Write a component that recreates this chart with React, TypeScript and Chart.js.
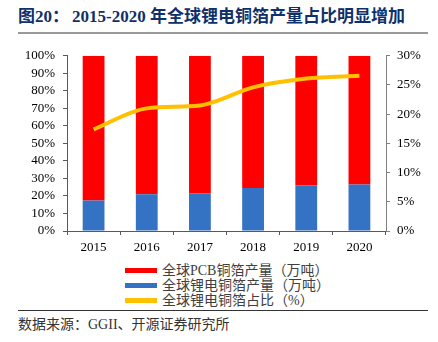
import React, { useEffect, useRef } from "react";
import { Chart, registerables } from "chart.js";

Chart.register(...registerables);

const categories = ["2015", "2016", "2017", "2018", "2019", "2020"];
// share of lithium-battery copper foil in total output (%)
const liShare = [17.4, 21.0, 21.5, 24.6, 26.1, 26.6];
// share of PCB copper foil (%)
const pcbShare = [82.6, 79.0, 78.5, 75.4, 73.9, 73.4];
// line values (%) on right axis
const liRatio = [17.4, 21.0, 21.5, 24.6, 26.1, 26.6];

const leftTicks = [0, 10, 20, 30, 40, 50, 60, 70, 80, 90, 100];
const rightTicks = [0, 5, 10, 15, 20, 25, 30];

const RED = "#FF0000";
const BLUE = "#3472C4";
const YELLOW = "#FFC000";
const serif = "'Liberation Serif', 'Times New Roman', 'Noto Sans CJK SC', serif";

export default function App() {
  const ref = useRef<HTMLCanvasElement | null>(null);

  useEffect(() => {
    document.body.style.margin = "0";
    const ctx = ref.current!;
    const chart = new Chart(ctx, {
      type: "bar",
      data: {
        labels: categories,
        datasets: [
          {
            type: "line",
            label: "全球锂电铜箔占比（%）",
            data: liRatio,
            yAxisID: "y1",
            borderColor: YELLOW,
            backgroundColor: YELLOW,
            borderWidth: 4,
            pointRadius: 0,
            tension: 0.4,
            cubicInterpolationMode: "monotone",
            order: 0,
          } as any,
          {
            label: "全球锂电铜箔产量（万吨）",
            data: liShare,
            backgroundColor: BLUE,
            barPercentage: 0.41,
            categoryPercentage: 1,
            stack: "s",
            order: 1,
          },
          {
            label: "全球PCB铜箔产量（万吨）",
            data: pcbShare,
            backgroundColor: RED,
            barPercentage: 0.41,
            categoryPercentage: 1,
            stack: "s",
            order: 1,
          },
        ],
      },
      options: {
        animation: false,
        responsive: false,
        layout: { padding: { top: 8, left: 0, right: 0, bottom: 0 } },
        plugins: { legend: { display: false }, tooltip: { enabled: false } },
        scales: {
          x: {
            stacked: true,
            offset: true,
            grid: {
              offset: true,
              drawOnChartArea: false,
              tickLength: 4,
              color: "#595959",
            },
            border: { color: "#595959", width: 1 },
            ticks: { color: "#000", font: { family: serif, size: 13 }, padding: 5 },
            afterFit: (s: any) => {
              s.height = 29;
            },
          },
          y: {
            stacked: true,
            min: 0,
            max: 100,
            afterBuildTicks: (s: any) => {
              s.ticks = leftTicks.map((v) => ({ value: v }));
            },
            grid: { drawOnChartArea: false, tickLength: 4, color: "#595959" },
            border: { color: "#595959", width: 1 },
            ticks: {
              autoSkip: false,
              color: "#000",
              font: { family: serif, size: 13 },
              padding: 8,
              callback: (v: any) => v + "%",
            },
            afterFit: (s: any) => {
              s.width = 67;
            },
          },
          y1: {
            position: "right",
            min: 0,
            max: 30,
            afterBuildTicks: (s: any) => {
              s.ticks = rightTicks.map((v) => ({ value: v }));
            },
            grid: { drawOnChartArea: false, tickLength: 4, color: "#808080" },
            border: { color: "#808080", width: 1 },
            ticks: {
              autoSkip: false,
              color: "#000",
              font: { family: serif, size: 13 },
              padding: 7,
              callback: (v: any) => v + "%",
            },
            afterFit: (s: any) => {
              s.width = 52;
            },
          },
        },
      },
    });
    return () => chart.destroy();
  }, []);

  const legendItems = [
    { color: RED, text: "全球PCB铜箔产量（万吨）" },
    { color: BLUE, text: "全球锂电铜箔产量（万吨）" },
    { color: YELLOW, text: "全球锂电铜箔占比（%）" },
  ];

  return (
    <div style={{ position: "relative", width: 438, height: 342, background: "#fff", overflow: "hidden" }}>
      <div
        style={{
          position: "absolute",
          left: 18,
          top: 6,
          fontFamily: serif,
          fontWeight: "bold",
          fontSize: 17,
          color: "#10306A",
          whiteSpace: "nowrap",
          lineHeight: "22px",
        }}
      >
        图20：<span style={{ marginLeft: 3 }}>2015-2020 年全球锂电铜箔产量占比明显增加</span>
      </div>
      <div style={{ position: "absolute", left: 18, top: 32, width: 410, height: 2, background: "#999" }} />
      <canvas ref={ref} width={438} height={220} style={{ position: "absolute", left: 0, top: 40, width: 438, height: 220 }} />
      {legendItems.map((it, i) => (
        <div key={i} style={{ position: "absolute", left: 125, top: 263 + i * 15, height: 15, display: "flex", alignItems: "center", whiteSpace: "nowrap" }}>
          <div style={{ width: 32, height: 5, background: it.color, marginRight: 5 }} />
          <span style={{ fontFamily: serif, fontSize: 14, color: "#404040", lineHeight: "15px" }}>{it.text}</span>
        </div>
      ))}
      <div style={{ position: "absolute", left: 18, top: 310, width: 410, height: 1, background: "#333" }} />
      <div style={{ position: "absolute", left: 18, top: 316, fontFamily: serif, fontSize: 14, color: "#333", whiteSpace: "nowrap", lineHeight: "18px" }}>
        数据来源：GGII、开源证券研究所
      </div>
    </div>
  );
}
